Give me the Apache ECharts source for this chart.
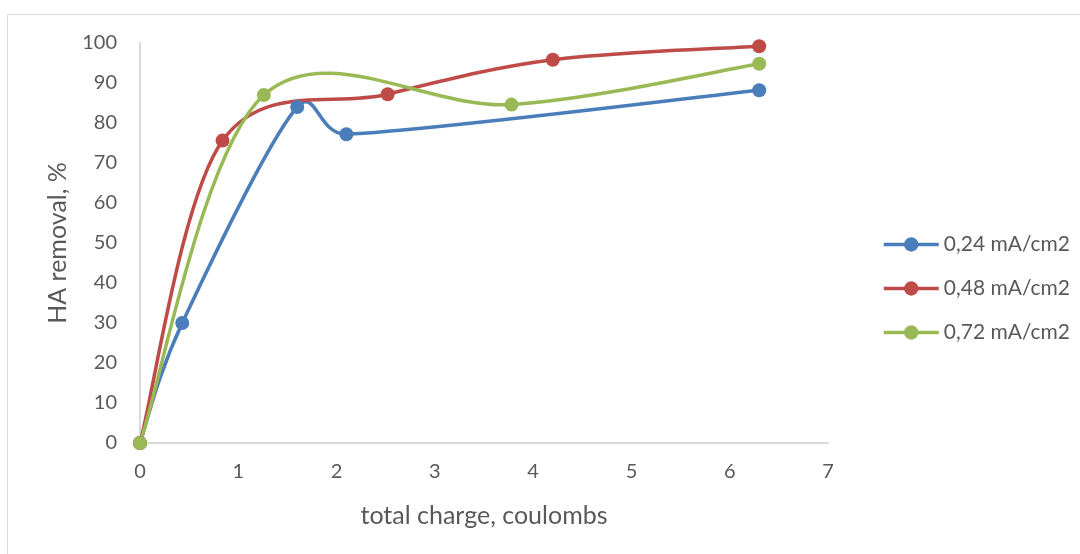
<!DOCTYPE html>
<html><head><meta charset="utf-8">
<script src="https://cdn.jsdelivr.net/npm/echarts@6/dist/echarts.min.js"></script>
<style>html,body{margin:0;padding:0;background:#fff}#c{width:1080px;height:554px}</style>
</head><body><div id="c"></div>
<script>
var seriesNames = ['0,24 mA/cm2', '0,48 mA/cm2', '0,72 mA/cm2'];
var blueX = [0, 0.43, 1.6, 2.1, 6.3];
var blueY = [0, 30, 84, 77.2, 88.2];
var redX = [0, 0.84, 2.52, 4.2, 6.3];
var redY = [0, 75.6, 87.2, 95.8, 99.2];
var greenX = [0, 1.26, 3.78, 6.3];
var greenY = [0, 87, 84.6, 94.8];
var xTicks = [0, 1, 2, 3, 4, 5, 6, 7];
var yTicks = [0, 10, 20, 30, 40, 50, 60, 70, 80, 90, 100];
var colors = ['#4a7ebb', '#be4b48', '#98b954'];

var xsList = [blueX, redX, greenX];
var ysList = [blueY, redY, greenY];
function pairs(xs, ys) { return xs.map(function (x, i) { return [x, ys[i]]; }); }

// Excel-like smoothed path (Catmull-Rom style Bezier) built from pixel coords given by the axes
function smoothPath(p) {
  var d = 'M' + p[0][0] + ',' + p[0][1];
  function len(a, b) { return Math.sqrt((a[0]-b[0])*(a[0]-b[0]) + (a[1]-b[1])*(a[1]-b[1])); }
  function arm(i, dir, seg) {
    var prev = p[Math.max(i - 1, 0)], next = p[Math.min(i + 1, p.length - 1)];
    var vx = (next[0] - prev[0]) / 6, vy = (next[1] - prev[1]) / 6;
    var l = Math.sqrt(vx*vx + vy*vy), maxL = seg * 0.5;
    if (l > maxL && l > 0) { vx *= maxL / l; vy *= maxL / l; }
    return [p[i][0] + dir * vx, p[i][1] + dir * vy];
  }
  for (var i = 0; i < p.length - 1; i++) {
    var seg = len(p[i], p[i+1]);
    var c1 = arm(i, 1, seg), c2 = arm(i + 1, -1, seg);
    d += ' C' + c1[0] + ',' + c1[1] + ' ' + c2[0] + ',' + c2[1] + ' ' + p[i+1][0] + ',' + p[i+1][1];
  }
  return d;
}

var font = 'Lato, "Open Sans", sans-serif';
var chart = echarts.init(document.getElementById('c'));
var series = [];
seriesNames.forEach(function (n, i) {
  series.push({
    name: n, type: 'line', data: pairs(xsList[i], ysList[i]), z: 5,
    symbol: 'circle', symbolSize: 14, showSymbol: true,
    lineStyle: { width: 3.5, color: colors[i], opacity: 0 },
    itemStyle: { color: colors[i] }
  });
});
seriesNames.forEach(function (n, i) {
  series.push({
    name: n, type: 'custom', z: 3, data: pairs(xsList[i], ysList[i]),
    encode: { x: 0, y: 1 },
    renderItem: function (params, api) {
      if (params.dataIndex !== 0) return null;
      var pts = xsList[i].map(function (x, k) { return api.coord([x, ysList[i][k]]); });
      return { type: 'path', shape: { pathData: smoothPath(pts) },
        style: { fill: 'none', stroke: colors[i], lineWidth: 3.5, lineCap: 'round', lineJoin: 'round' } };
    }
  });
});

chart.setOption({
  animation: false,
  color: colors,
  graphic: [{ type: 'rect', shape: { x: 7.5, y: 14.5, width: 1080, height: 560 }, style: { fill: 'none', stroke: '#d9d9d9', lineWidth: 1 } }],
  grid: { left: 140, right: 252, top: 43, bottom: 111 },
  legend: {
    orient: 'vertical', left: 877, top: 229, itemGap: 23, itemWidth: 55, itemHeight: 18,
    textStyle: { color: '#595959', fontSize: 21, fontFamily: font },
    data: seriesNames.map(function (n, i) {
      return { name: n, lineStyle: { opacity: 1, color: colors[i], width: 3.5 }, itemStyle: { color: colors[i] } };
    })
  },
  xAxis: {
    type: 'value', min: 0, max: 7, interval: 1,
    name: 'total charge, coulombs', nameLocation: 'middle', nameGap: 60,
    nameTextStyle: { color: '#595959', fontSize: 25, fontFamily: font },
    axisLine: { show: true, lineStyle: { color: '#d9d9d9', width: 2 } },
    axisTick: { show: false }, splitLine: { show: false },
    axisLabel: { color: '#595959', fontSize: 20, fontFamily: font, margin: 19,
      formatter: function (v) { return xTicks.indexOf(v) >= 0 ? String(v) : ''; } }
  },
  yAxis: {
    type: 'value', min: 0, max: 100, interval: 10,
    name: 'HA removal, %', nameLocation: 'middle', nameGap: 70, nameRotate: 90,
    nameTextStyle: { color: '#595959', fontSize: 25, fontFamily: font },
    axisLine: { show: true, lineStyle: { color: '#d9d9d9', width: 2 } },
    axisTick: { show: false }, splitLine: { show: false },
    axisLabel: { color: '#595959', fontSize: 20, fontFamily: font, margin: 23,
      formatter: function (v) { return yTicks.indexOf(v) >= 0 ? String(v) : ''; } }
  },
  series: series
});
</script></body></html>
